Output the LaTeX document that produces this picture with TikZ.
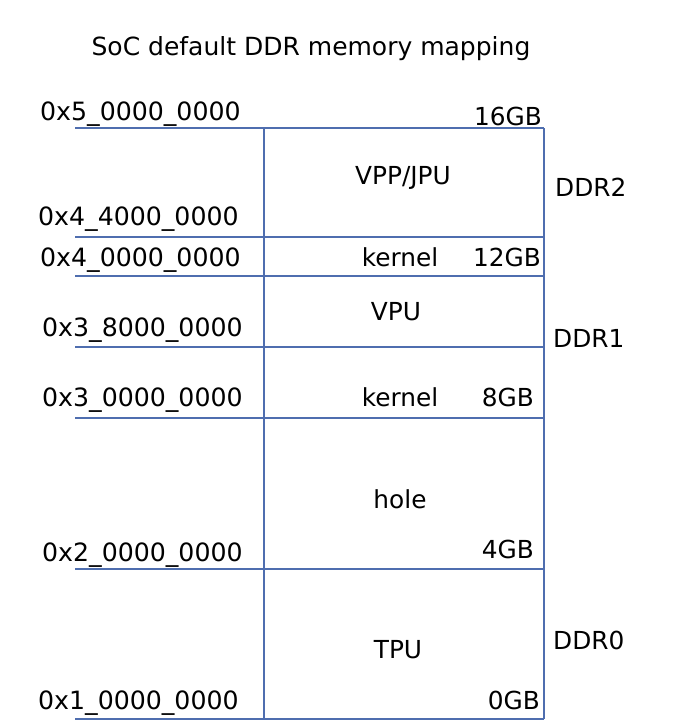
\documentclass[tikz,border=0pt]{standalone}
\usepackage{fontspec}
\setmainfont{DejaVu Sans}
\usetikzlibrary{positioning}
\definecolor{mapblue}{RGB}{79,110,175}

\begin{document}
\begin{tikzpicture}[
    x=1pt, y=-1pt,
    txt/.style={inner sep=0pt, font=\fontsize{24.8}{30}\selectfont},
    addr/.style={txt, anchor=base west, font=\fontsize{25.2}{30}\selectfont},
    size/.style={txt, anchor=base east},
    region/.style={txt, anchor=base},
    ddr/.style={txt, anchor=base west},
    mapline/.style={draw=mapblue, line width=1.3pt}
]
    \useasboundingbox (0,0) rectangle (699,728);

    % Title
    \node[region, font=\fontsize{25}{30}\selectfont] (title) at (311,55) {SoC default DDR memory mapping};

    % Address boundaries
    \foreach \n/\y in {5/128, 44/237, 4/276, 38/347, 3/418, 2/569, 1/719} {
        \coordinate (l\n) at (75,\y);
        \coordinate (r\n) at (544,\y);
        \draw[mapline] (l\n) -- (r\n);
    }

    % Memory box
    \coordinate (boxtop) at (264,128);
    \coordinate (boxbot) at (264,719);
    \draw[mapline] (boxtop) -- (boxbot);
    \draw[mapline] (r5) -- (r1);

    % Addresses
    \node[addr] (a5) at (40,120) {0x5\_0000\_0000};
    \node[addr] (a44) at (38,225) {0x4\_4000\_0000};
    \node[addr] (a4) at (40,266) {0x4\_0000\_0000};
    \node[addr] (a38) at (42,336) {0x3\_8000\_0000};
    \node[addr] (a3) at (42,406) {0x3\_0000\_0000};
    \node[addr] (a2) at (42,561) {0x2\_0000\_0000};
    \node[addr] (a1) at (38,709) {0x1\_0000\_0000};

    % Sizes
    \node[size] (s16) at (542,125) {16GB};
    \node[size] (s12) at (541,266) {12GB};
    \node[size] (s8) at (534,406) {8GB};
    \node[size] (s4) at (534,558) {4GB};
    \node[size] (s0) at (540,709) {0GB};

    % Regions
    \node[region] (vpp) at (403,184) {VPP/JPU};
    \node[region] (kern2) at (400,266) {kernel};
    \node[region] (vpu) at (396,320) {VPU};
    \node[region] (kern1) at (400,406) {kernel};
    \node[region] (hole) at (400,508) {hole};
    \node[region] (tpu) at (398,658) {TPU};

    % DDR banks
    \node[ddr] (ddr2) at (555,196) {DDR2};
    \node[ddr] (ddr1) at (553,347) {DDR1};
    \node[ddr] (ddr0) at (553,649) {DDR0};
\end{tikzpicture}
\end{document}
